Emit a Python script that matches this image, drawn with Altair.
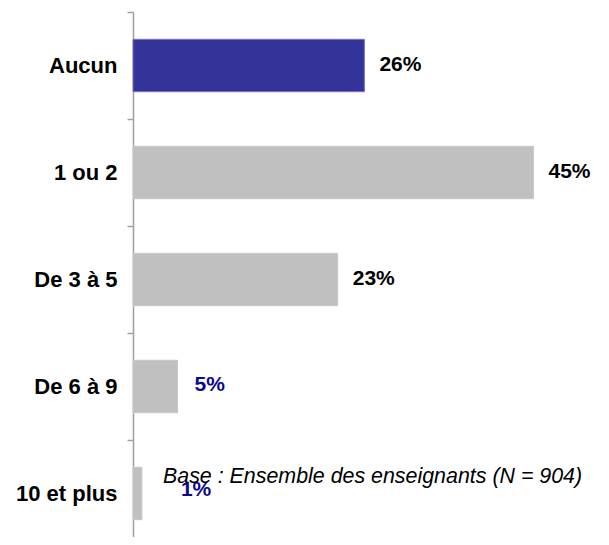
import altair as alt
import pandas as pd

categories = ["Aucun", "1 ou 2", "De 3 à 5", "De 6 à 9", "10 et plus"]
values = [26, 45, 23, 5, 1]
note = "Base : Ensemble des enseignants (N = 904)"

df = pd.DataFrame({"cat": categories, "value": values})
FONT = "Liberation Sans"

y_enc = alt.Y(
    "cat:N",
    sort=categories,
    scale=alt.Scale(paddingInner=0, paddingOuter=0, range=[0, 535]),
    axis=alt.Axis(
        title=None,
        labelFont=FONT,
        labelFontSize=22,
        labelFontWeight="bold",
        labelColor="black",
        labelPadding=10,
        tickSize=6,
        tickColor="#a0a0a0",
        domainColor="#a0a0a0",
        domainWidth=1.5,
        tickWidth=1.5,
        bandPosition=0,
    ),
)
x_enc = alt.X("value:Q", scale=alt.Scale(domain=[0, 50]), axis=None)

base = alt.Chart(df).encode(y=y_enc, x=x_enc)

bars = base.mark_bar(height=alt.RelativeBandSize(0.49), strokeWidth=1).encode(
    color=alt.condition(alt.datum.cat == "Aucun", alt.value("#333399"), alt.value("#c0c0c0")),
    stroke=alt.condition(alt.datum.cat == "Aucun", alt.value("#7777bb"), alt.value("#c8c8c8")),
)

label_common = dict(font=FONT, fontSize=21, fontWeight="bold", align="left", baseline="middle")

lab_big = base.transform_filter(alt.datum.value >= 10).transform_calculate(
    lbl="datum.value + '%'"
).mark_text(dx=15, dy=-1, color="black", **label_common).encode(text="lbl:N")

lab_5 = base.transform_filter(alt.datum.cat == "De 6 à 9").transform_calculate(
    lbl="datum.value + '%'"
).mark_text(dx=17, dy=-2, color="#0a0a8a", **label_common).encode(text="lbl:N")

lab_1 = base.transform_filter(alt.datum.cat == "10 et plus").transform_calculate(
    lbl="datum.value + '%'"
).mark_text(dx=39, dy=-4, color="#0a0a8a", **label_common).encode(text="lbl:N")

foot = alt.Chart(pd.DataFrame({"note": [note]})).mark_text(
    font=FONT, fontSize=21.4, fontStyle="italic", align="left", baseline="alphabetic", color="black"
).encode(text="note:N", x=alt.value(30), y=alt.value(471))

chart = (
    alt.layer(bars, lab_big, lab_5, lab_1, foot)
    .properties(
        width=445,
        height=525,
        autosize=alt.AutoSizeParams(type="none"),
        padding={"left": 125, "top": 4, "right": 20, "bottom": 0},
    )
    .configure_view(stroke=None)
)

chart.save("out.html", embed_options={"renderer": "svg", "actions": False})
